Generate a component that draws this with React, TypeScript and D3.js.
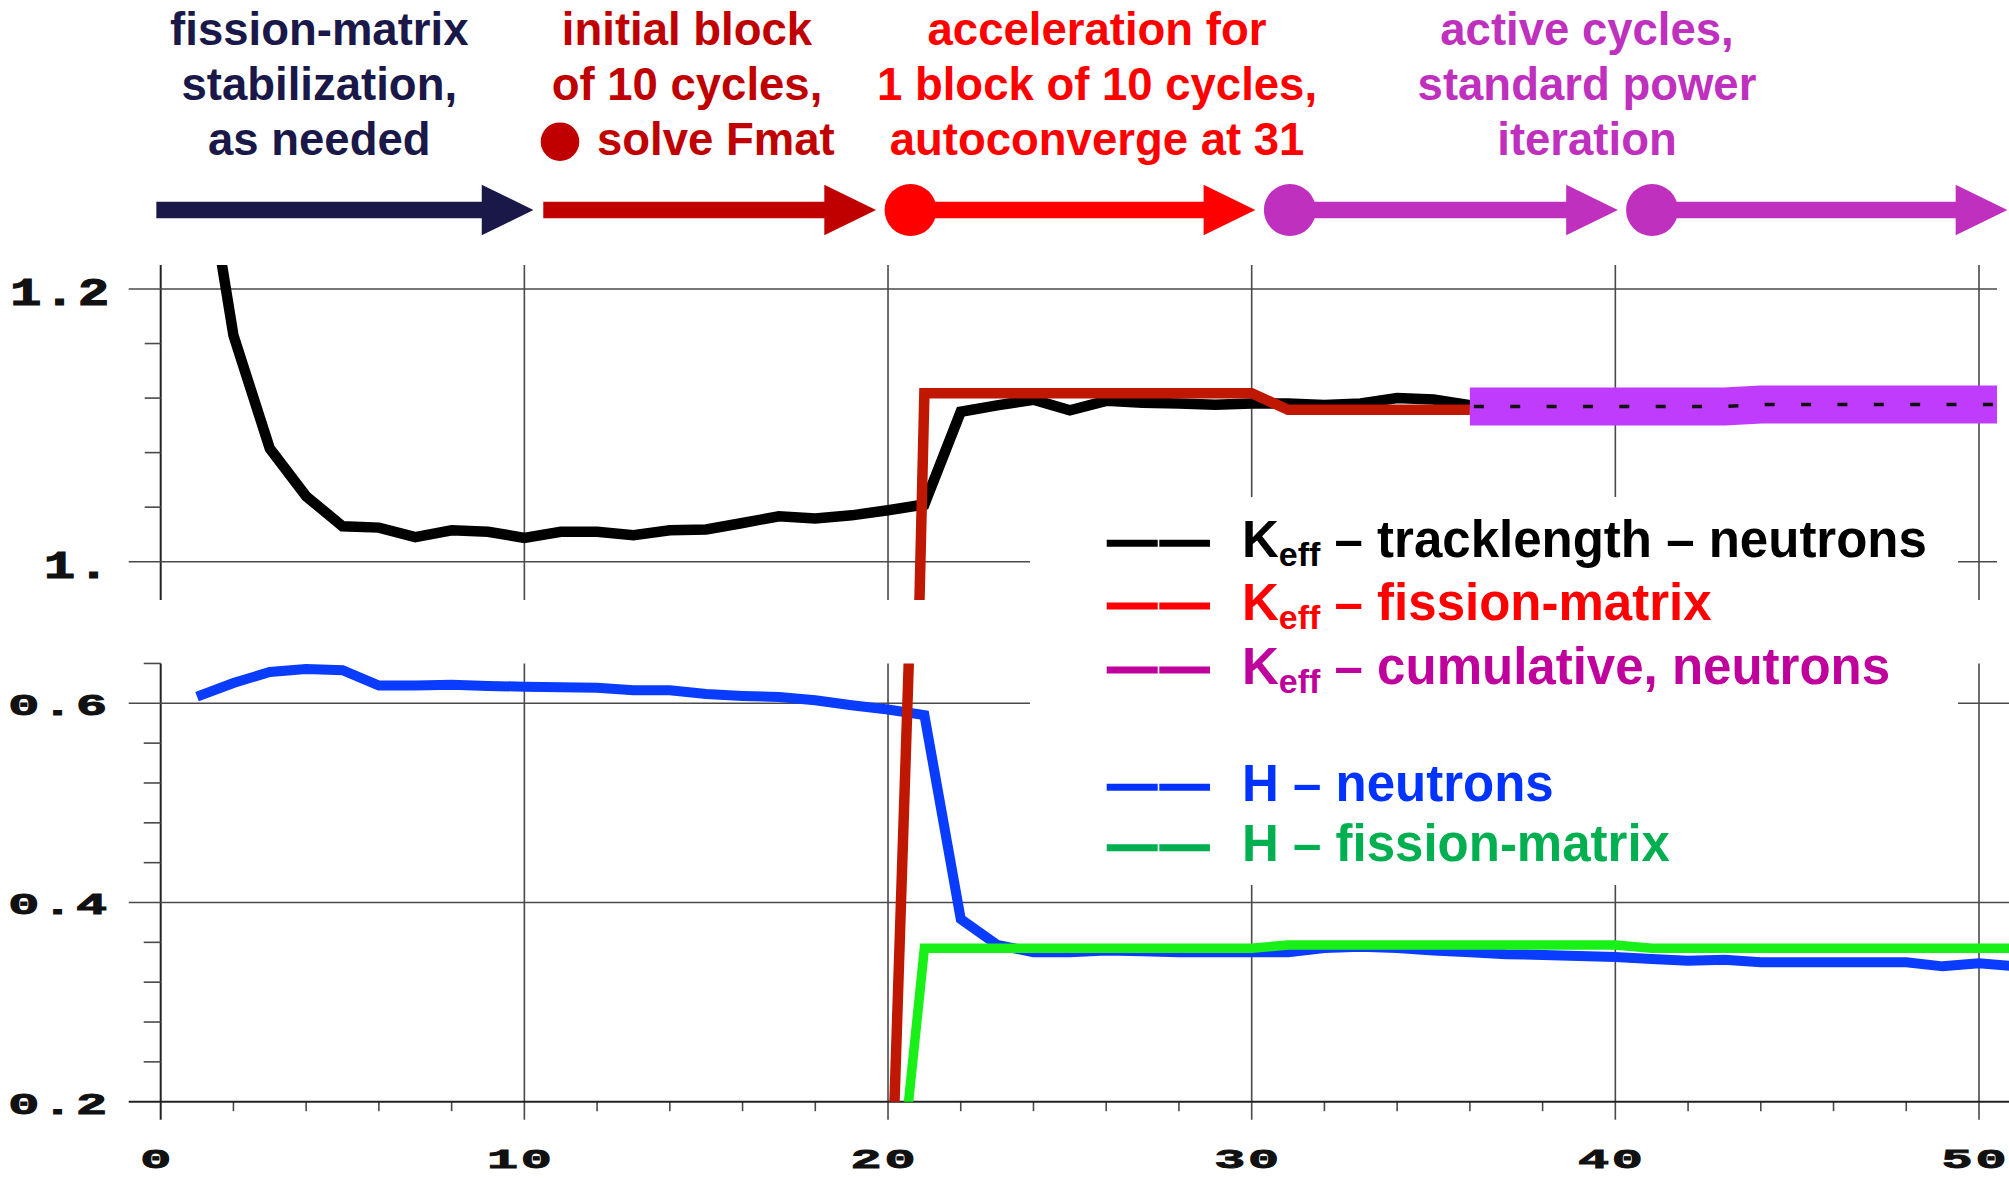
import React from "react";
import * as d3 from "d3";

const W = 2009;
const H = 1178;

// ---------- DATA ----------
const trackCycles = [1, 2, 3, 4, 5, 6, 7, 8, 9, 10, 11, 12, 13, 14, 15, 16, 17, 18, 19, 20, 21, 22, 23, 24, 25, 26, 27, 28, 29, 30, 31, 32, 33, 34, 35, 36];
const keffTracklength = [1.33, 1.166, 1.083, 1.048, 1.026, 1.025, 1.018, 1.023, 1.022, 1.0175, 1.022, 1.022, 1.0195, 1.023, 1.0236, 1.0284, 1.0333, 1.0317, 1.034, 1.0377, 1.042, 1.11, 1.1147, 1.1188, 1.111, 1.118, 1.1165, 1.116, 1.1152, 1.116, 1.116, 1.115, 1.116, 1.12, 1.119, 1.1147];

const fmKCycles = [20, 21, 22, 23, 24, 25, 26, 27, 28, 29, 30, 31, 32, 33, 34, 35, 36];
const keffFissionMatrix = [0, 1.1235, 1.1235, 1.1235, 1.1235, 1.1235, 1.1235, 1.1235, 1.1235, 1.1235, 1.1235, 1.1115, 1.1115, 1.1115, 1.1115, 1.1115, 1.1115];

const cumCycles = [36, 37, 38, 39, 40, 41, 42, 43, 44, 45, 46, 47, 48, 49, 50, 51];
const keffCumulative = [1.1138, 1.1138, 1.1138, 1.1138, 1.1138, 1.1138, 1.1138, 1.1138, 1.1153, 1.1153, 1.1153, 1.1153, 1.1153, 1.1153, 1.1153, 1.1153];

const hCycles = [1, 2, 3, 4, 5, 6, 7, 8, 9, 10, 11, 12, 13, 14, 15, 16, 17, 18, 19, 20, 21, 22, 23, 24, 25, 26, 27, 28, 29, 30, 31, 32, 33, 34, 35, 36, 37, 38, 39, 40, 41, 42, 43, 44, 45, 46, 47, 48, 49, 50, 51];
const hNeutrons = [0.6067, 0.6204, 0.6315, 0.6344, 0.6333, 0.6178, 0.6178, 0.6185, 0.6174, 0.6167, 0.616, 0.6156, 0.613, 0.613, 0.6093, 0.6074, 0.6063, 0.603, 0.5981, 0.5937, 0.5881, 0.3833, 0.3574, 0.35, 0.35, 0.3519, 0.3511, 0.35, 0.35, 0.35, 0.35, 0.3544, 0.3556, 0.3544, 0.3519, 0.35, 0.3481, 0.3474, 0.3463, 0.3452, 0.3433, 0.3415, 0.3426, 0.34, 0.34, 0.34, 0.34, 0.34, 0.3359, 0.3389, 0.336];

const hFmCycles = [20, 21, 22, 23, 24, 25, 26, 27, 28, 29, 30, 31, 32, 33, 34, 35, 36, 37, 38, 39, 40, 41, 42, 43, 44, 45, 46, 47, 48, 49, 50, 51];
const hFissionMatrix = [0, 0.354, 0.354, 0.354, 0.354, 0.354, 0.354, 0.354, 0.354, 0.354, 0.354, 0.3574, 0.3574, 0.3574, 0.3574, 0.3574, 0.3574, 0.3574, 0.3574, 0.3574, 0.3574, 0.354, 0.354, 0.354, 0.354, 0.354, 0.354, 0.354, 0.354, 0.354, 0.354, 0.354];

const xMajorTicks = [0, 10, 20, 30, 40, 50];
const xMinorTicks = [2, 4, 6, 8, 12, 14, 16, 18, 22, 24, 26, 28, 32, 34, 36, 38, 42, 44, 46, 48];
const topMajorTicks = [1.0, 1.2];
const topMajorLabels = ["1.", "1.2"];
const topMinorTicks = [1.04, 1.08, 1.12, 1.16];
const botMajorTicks = [0.2, 0.4, 0.6];
const botMajorLabels = ["0.2", "0.4", "0.6"];
const botMinorTicks = [0.24, 0.28, 0.32, 0.36, 0.44, 0.48, 0.52, 0.56, 0.64];

const phaseTexts = [
  ["fission-matrix", "stabilization,", "as needed"],
  ["initial block", "of 10 cycles,", "solve Fmat"],
  ["acceleration for", "1 block of 10 cycles,", "autoconverge at 31"],
  ["active cycles,", "standard power", "iteration"],
];
const phaseColors = ["#1a1848", "#c00000", "#ff0000", "#bf30bf"];

const arrowStarts = [-0.12, 10.52, 20.62, 31.05, 41.01];
const arrowEnds = [10.25, 19.67, 30.1, 40.07, 50.78];
const arrowDots = [false, false, true, true, true];
const arrowColors = ["#1a1848", "#c00000", "#ff0000", "#bf30bf", "#bf30bf"];

const legendLabels = ["tracklength – neutrons", "fission-matrix", "cumulative, neutrons", "neutrons", "fission-matrix"];
const legendPrefix = ["K", "K", "K", "H", "H"];
const legendColors = ["#000000", "#ff0000", "#c0009c", "#0033ff", "#00b050"];

// ---------- SCALES ----------
const x = d3.scaleLinear().domain([0, 50]).range([160.7, 1979]);
const yTop = d3.scaleLinear().domain([1.0, 1.2]).range([561.7, 289]);
const yBot = d3.scaleLinear().domain([0.2, 0.6]).range([1101.7, 703.3]);

const TOP_Y0 = 265;
const TOP_Y1 = 600;
const TOP_X1 = 1997;
const BOT_Y0 = yBot(0.64);
const BOT_Y1 = yBot(0.2);

const GRID = "#4a4a4a";
const AXIS = "#222";

const zip = (a: number[], b: number[]) => a.map((v, i) => [v, b[i]] as [number, number]);

const lineTop = d3.line<[number, number]>().x((d) => x(d[0])).y((d) => yTop(d[1]));
const lineBot = d3.line<[number, number]>().x((d) => x(d[0])).y((d) => yBot(d[1]));

const SANS = "'Liberation Sans', Arial, Helvetica, sans-serif";
const MONO = "'Liberation Mono', 'Courier New', monospace";

const MONO_SX = 1.85;
const MONO_LS = 1.5;

function MonoLabel({ px, py, text, anchor, sy }: { px: number; py: number; text: string; anchor: string; sy: number }) {
  return (
    <text
      transform={`translate(${px},${py}) scale(${MONO_SX},${sy})`}
      textAnchor={anchor}
      fontFamily={MONO}
      fontWeight="bold"
      fontSize={28}
      letterSpacing={MONO_LS}
      fill="#111"
      stroke="#111"
      strokeWidth={0.9}
    >
      {text}
    </text>
  );
}

function arrowPath(xs: number, tip: number, cy: number) {
  const hb = tip - 51.7;
  const sh = 8.3;
  const hh = 25.3;
  return `M${xs},${cy - sh}L${hb},${cy - sh}L${hb},${cy - hh}L${tip},${cy}L${hb},${cy + hh}L${hb},${cy + sh}L${xs},${cy + sh}Z`;
}

export default function App() {
  const textCenters = [319.3, 687, 1097, 1587];
  const baselines = [45, 100, 155];
  const ARROW_Y = 210;
  const trail = MONO_LS * MONO_SX;

  const legendLineY = [543.3, 606, 670, 787.3, 847.7];

  return (
    <svg width={W} height={H} style={{ position: "absolute", left: 0, top: 0, display: "block", background: "#fff" }}>
      <defs>
        <clipPath id="clipTop">
          <rect x={x(0)} y={TOP_Y0} width={TOP_X1 - x(0)} height={TOP_Y1 - TOP_Y0} />
        </clipPath>
        <clipPath id="clipBot">
          <rect x={x(0)} y={BOT_Y0} width={W - x(0)} height={BOT_Y1 - BOT_Y0} />
        </clipPath>
      </defs>
      <rect x={0} y={0} width={W} height={H} fill="#fff" />

      {/* ---------- phase annotations ---------- */}
      {phaseTexts.map((lines, i) =>
        lines.map((t, j) => {
          if (i === 1 && j === 2) {
            return (
              <g key={`pt${i}${j}`}>
                <circle cx={560} cy={141.7} r={19.3} fill={phaseColors[i]} />
                <text x={597} y={baselines[j]} fill={phaseColors[i]} fontFamily={SANS} fontWeight="bold" fontSize={45.5}>
                  {t}
                </text>
              </g>
            );
          }
          return (
            <text
              key={`pt${i}${j}`}
              x={textCenters[i]}
              y={baselines[j]}
              textAnchor="middle"
              fill={phaseColors[i]}
              fontFamily={SANS}
              fontWeight="bold"
              fontSize={45.5}
            >
              {t}
            </text>
          );
        })
      )}
      {arrowStarts.map((s, i) => (
        <g key={`ar${i}`} fill={arrowColors[i]}>
          <path d={arrowPath(x(s), x(arrowEnds[i]), ARROW_Y)} />
          {arrowDots[i] && <circle cx={x(s)} cy={ARROW_Y} r={26} />}
        </g>
      ))}

      {/* ---------- top panel grid ---------- */}
      {xMajorTicks.map((t) => (
        <line key={`tv${t}`} x1={x(t)} x2={x(t)} y1={TOP_Y0} y2={TOP_Y1} stroke={t === 0 ? AXIS : GRID} strokeWidth={t === 0 ? 2 : 1.6} />
      ))}
      {topMajorTicks.map((t) => (
        <line key={`th${t}`} x1={x(0) - 32} x2={TOP_X1} y1={yTop(t)} y2={yTop(t)} stroke={GRID} strokeWidth={1.6} />
      ))}
      {topMinorTicks.map((t) => (
        <line key={`tm${t}`} x1={x(0) - 16} x2={x(0)} y1={yTop(t)} y2={yTop(t)} stroke={GRID} strokeWidth={1.6} />
      ))}
      {topMajorTicks.map((t, i) => (
        <MonoLabel key={`tl${t}`} px={109 + trail} py={yTop(t) + 16} text={topMajorLabels[i]} anchor="end" sy={1.38} />
      ))}

      {/* ---------- bottom panel grid ---------- */}
      {xMajorTicks.map((t) => (
        <line key={`bv${t}`} x1={x(t)} x2={x(t)} y1={BOT_Y0} y2={BOT_Y1 + 18} stroke={t === 0 ? AXIS : GRID} strokeWidth={t === 0 ? 2 : 1.6} />
      ))}
      {xMinorTicks.map((t) => (
        <line key={`bxm${t}`} x1={x(t)} x2={x(t)} y1={BOT_Y1} y2={BOT_Y1 + 9.5} stroke={GRID} strokeWidth={1.6} />
      ))}
      {botMajorTicks.map((t) => (
        <line key={`bh${t}`} x1={x(0) - 32} x2={W} y1={yBot(t)} y2={yBot(t)} stroke={t === 0.2 ? AXIS : GRID} strokeWidth={t === 0.2 ? 2 : 1.6} />
      ))}
      {botMinorTicks.map((t) => (
        <line key={`bm${t}`} x1={x(0) - 17} x2={x(0)} y1={yBot(t)} y2={yBot(t)} stroke={GRID} strokeWidth={1.6} />
      ))}
      {botMajorTicks.map((t, i) => (
        <MonoLabel key={`bl${t}`} px={107 + trail} py={yBot(t) + 11.9} text={botMajorLabels[i]} anchor="end" sy={1.06} />
      ))}
      {xMajorTicks.map((t) => (
        <MonoLabel key={`xl${t}`} px={x(t) - 5 + trail / 2} py={1168} text={String(t)} anchor="middle" sy={1} />
      ))}

      {/* ---------- top panel data ---------- */}
      <g clipPath="url(#clipTop)" fill="none">
        <path d={lineTop(zip(trackCycles, keffTracklength)) || ""} stroke="#000" strokeWidth={10.5} strokeLinejoin="miter" />
        <path d={lineTop(zip(fmKCycles, keffFissionMatrix)) || ""} stroke="#c01800" strokeWidth={10.5} strokeLinejoin="miter" />
        <path d={lineTop(zip(cumCycles, keffCumulative)) || ""} stroke="#c03cfc" strokeWidth={38} />
        <path
          d={lineTop(zip(cumCycles, keffCumulative)) || ""}
          stroke="#111"
          strokeWidth={3.5}
          strokeDasharray="10 26.36"
          strokeDashoffset={-4}
        />
      </g>

      {/* ---------- bottom panel data ---------- */}
      <g clipPath="url(#clipBot)" fill="none">
        <path d={lineBot(zip(hCycles, hNeutrons)) || ""} stroke="#0a3cff" strokeWidth={10} strokeLinejoin="miter" />
        <path d={lineBot(zip(hFmCycles, hFissionMatrix)) || ""} stroke="#18f018" strokeWidth={9.5} strokeLinejoin="miter" />
        <path d={lineBot(zip(fmKCycles, keffFissionMatrix)) || ""} stroke="#c01800" strokeWidth={10.5} />
      </g>

      {/* ---------- legend ---------- */}
      <rect x={1030} y={497} width={928} height={388} fill="#fff" />
      {legendLabels.map((lab, i) => (
        <g key={`lg${i}`}>
          <line x1={1106.7} x2={1157.7} y1={legendLineY[i]} y2={legendLineY[i]} stroke={legendColors[i]} strokeWidth={7} />
          <line x1={1159.3} x2={1210} y1={legendLineY[i]} y2={legendLineY[i]} stroke={legendColors[i]} strokeWidth={7} />
          <text x={1242} y={legendLineY[i] + 13.5} fill={legendColors[i]} fontFamily={SANS} fontWeight="bold" fontSize={51}>
            {legendPrefix[i] === "K" ? (
              <>
                K
                <tspan fontSize={34} dy={9}>
                  eff
                </tspan>
                <tspan dy={-9}>{` – ${lab}`}</tspan>
              </>
            ) : (
              <>{`H – ${lab}`}</>
            )}
          </text>
        </g>
      ))}
    </svg>
  );
}
